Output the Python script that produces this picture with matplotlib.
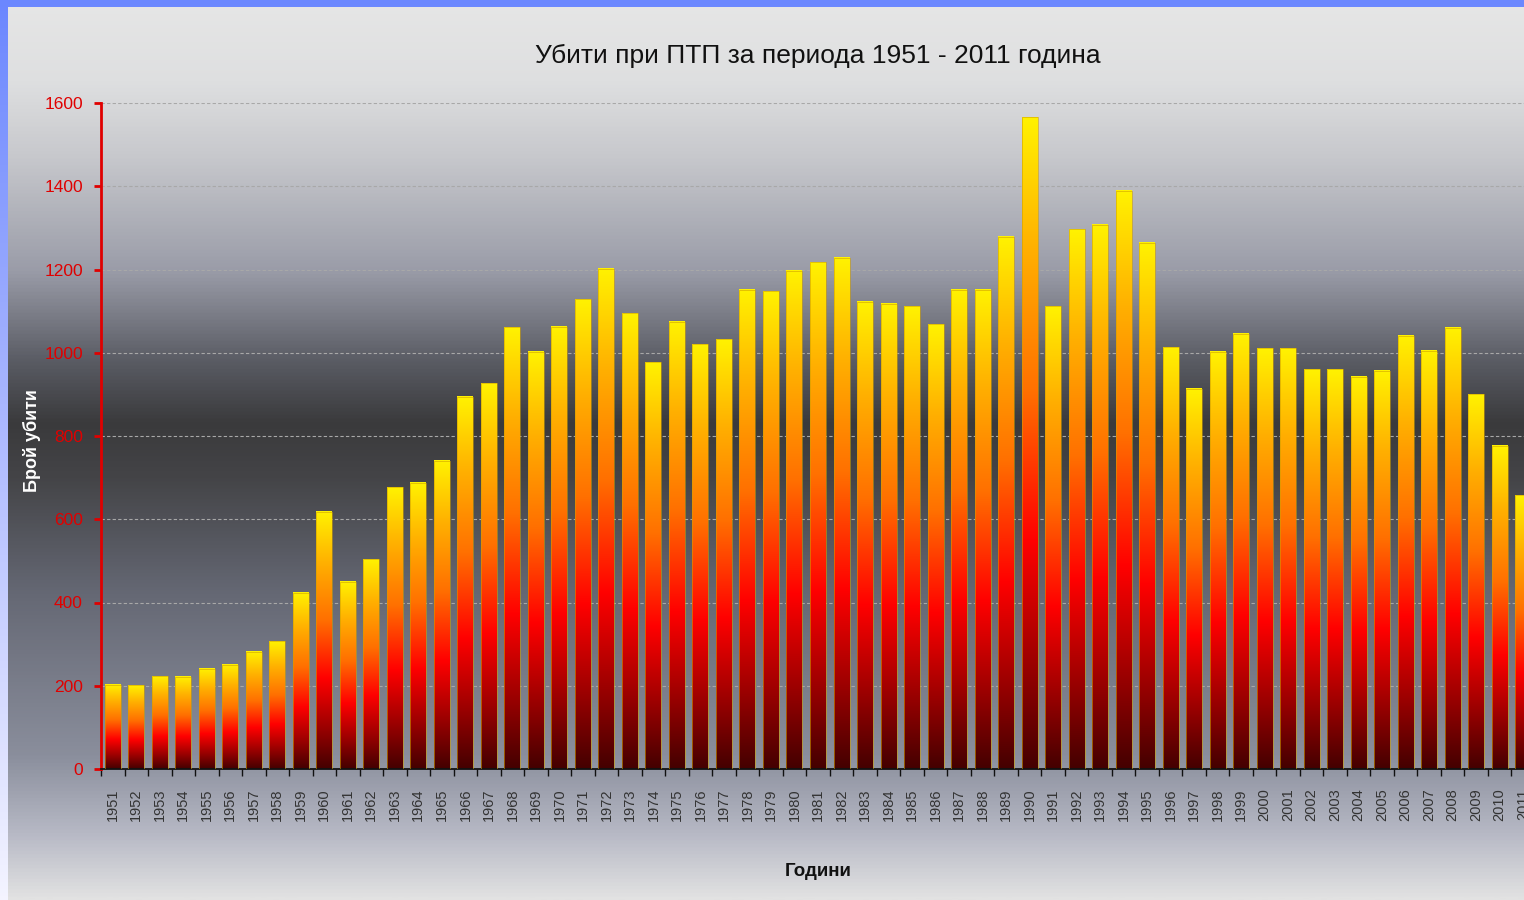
import numpy as np
import matplotlib
matplotlib.use('Agg')
import matplotlib.pyplot as plt
from matplotlib.colors import LinearSegmentedColormap
from matplotlib.patches import Rectangle

years = list(range(1951, 2012))
killed = [202, 201, 223, 222, 241, 251, 282, 307, 424, 618,
          450, 504, 677, 688, 741, 894, 927, 1061, 1003, 1063,
          1128, 1202, 1095, 977, 1074, 1020, 1033, 1151, 1148, 1197,
          1217, 1228, 1123, 1118, 1112, 1069, 1151, 1151, 1279, 1566,
          1112, 1297, 1307, 1389, 1264, 1013, 913, 1003, 1046, 1011,
          1011, 960, 960, 942, 957, 1041, 1005, 1060, 900, 776,
          658]
yticks = [0, 200, 400, 600, 800, 1000, 1200, 1400, 1600]

title = 'Убити при ПТП за периода 1951 - 2011 година'
xlabel = 'Години'
ylabel = 'Брой убити'

plt.rcParams['font.family'] = ['Liberation Sans', 'DejaVu Sans']

W, H = 1524, 900
fig = plt.figure(figsize=(W / 100, H / 100), dpi=100)

# background: vertical grey gradient, dark band in the middle
bg_stops = [(0.00, '#e6e6e6'), (0.09, '#dedfe0'), (0.17, '#c8c9cd'),
            (0.30, '#9a9ca8'), (0.40, '#5a5c64'), (0.47, '#3a3a3c'),
            (0.53, '#444447'), (0.66, '#656874'), (0.84, '#8a8e9c'),
            (0.93, '#b8bac6'), (1.00, '#e2e2e2')]
bg_cmap = LinearSegmentedColormap.from_list('bg', bg_stops)
bg = fig.add_axes([0, 0, 1, 1], zorder=0)
bg.imshow(np.linspace(0, 1, 512).reshape(-1, 1), cmap=bg_cmap, aspect='auto',
          extent=[0, 1, 0, 1], origin='upper')
# blue frame on top and left
side = LinearSegmentedColormap.from_list('side', [(0, '#6b87fe'), (0.45, '#a9b6ff'), (1, '#f4f4ff')])
bg.imshow(np.linspace(0, 1, 256).reshape(-1, 1), cmap=side, aspect='auto',
          extent=[0, 8 / W, 0, 1], origin='upper')
bg.add_patch(Rectangle((0, 1 - 7 / H), 1, 7 / H, color='#6b87fe', lw=0))
bg.set_xlim(0, 1); bg.set_ylim(0, 1)
bg.axis('off')

ax = fig.add_axes([101 / W, 1 - 769 / H, (1535 - 101) / W, (769 - 103) / H], zorder=1)
ax.set_facecolor('none')

bar_cmap = LinearSegmentedColormap.from_list('bar', [
    (0.0, '#440000'), (0.15, '#960000'), (0.35, '#ff0000'),
    (0.58, '#ff7000'), (0.80, '#ffb000'), (1.0, '#fff200')])
grad = np.linspace(0, 1, 256).reshape(-1, 1)

bars = ax.bar(years, killed, width=0.68, facecolor='none', edgecolor='#d0a000', lw=0.4, zorder=3)
for b in bars:
    x0, w, h = b.get_x(), b.get_width(), b.get_height()
    ax.imshow(grad, cmap=bar_cmap, aspect='auto', origin='lower',
              extent=[x0, x0 + w, 0, h], zorder=2)

ax.set_xlim(years[0] - 0.5, years[-1] + 0.5)
ax.set_ylim(0, 1600)
ax.set_yticks(yticks)
ax.grid(axis='y', color='#a8a8a8', ls=(0, (3, 2)), lw=0.8, zorder=1)
ax.set_axisbelow(True)

for s in ['top', 'right']:
    ax.spines[s].set_visible(False)
ax.spines['left'].set_color('#e00000')
ax.spines['left'].set_linewidth(2)
ax.spines['bottom'].set_color('#111111')
ax.spines['bottom'].set_linewidth(1.3)

ax.tick_params(axis='y', colors='#e00000', labelsize=12.5, length=5, width=2, pad=8)
ax.set_xticks(years)
ax.set_xticklabels([str(y) for y in years], rotation=90, fontsize=10.5, color='#333333')
ax.set_xticks([y + 0.5 for y in years[:-1]] + [years[0] - 0.5], minor=True)
ax.tick_params(axis='x', which='major', length=0, pad=14)
ax.tick_params(axis='x', which='minor', length=5, width=1, color='#111111')

ax.set_title(title, fontsize=19, color='#111111', pad=29)
ax.set_xlabel(xlabel, fontsize=13.5, fontweight='bold', color='#111111', labelpad=30)
fig.text(32 / W, 1 - 441 / H, ylabel, rotation=90, color='white', fontsize=13,
         fontweight='bold', ha='center', va='center')

fig.savefig('out.png', dpi=100)
